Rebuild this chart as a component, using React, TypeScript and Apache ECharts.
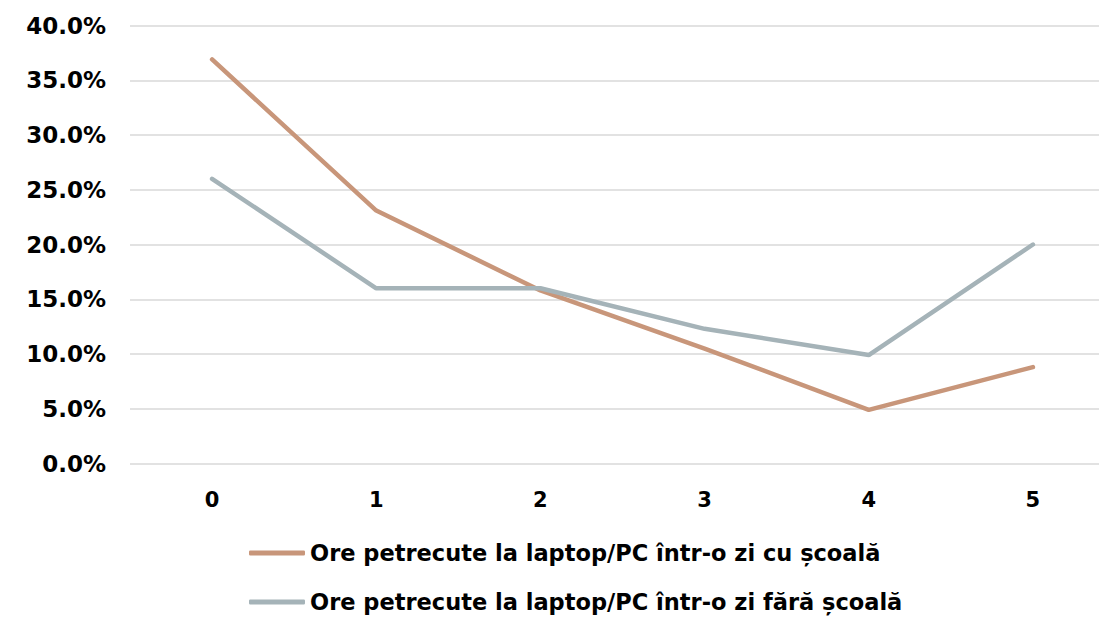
import React, { useEffect, useRef } from "react";
import * as echarts from "echarts";

const categories = ["0", "1", "2", "3", "4", "5"];
const seriesNames = [
  "Ore petrecute la laptop/PC într-o zi cu școală",
  "Ore petrecute la laptop/PC într-o zi fără școală",
];
const withSchool = [36.9, 23.1, 15.8, 10.5, 4.9, 8.8];
const withoutSchool = [26.0, 16.0, 16.0, 12.3, 9.9, 20.0];
const colors = ["#C8967A", "#A5B3B8"];

export default function App() {
  const ref = useRef<HTMLDivElement>(null);
  useEffect(() => {
    document.body.style.margin = "0";
    document.body.style.overflow = "hidden";
    const chart = echarts.init(ref.current!, undefined, { renderer: "svg" });
    const font = "'DejaVu Sans', sans-serif";
    const H = 660;
    chart.setOption({
      animation: false,
      color: colors,
      grid: { left: 130, right: 0, top: 25.5, bottom: H - 463.5 },
      xAxis: {
        type: "category",
        data: categories,
        boundaryGap: true,
        axisLine: { show: false },
        axisTick: { show: false },
        axisLabel: {
          color: "#000",
          fontSize: 21,
          fontWeight: "bold",
          fontFamily: font,
          margin: 26,
        },
      },
      yAxis: {
        type: "value",
        min: 0,
        max: 40,
        interval: 5,
        axisLine: { show: false },
        axisTick: { show: false },
        splitLine: { lineStyle: { color: "#D9D9D9", width: 1.5 } },
        axisLabel: {
          color: "#000",
          fontSize: 23,
          fontWeight: "bold",
          fontFamily: font,
          margin: 24,
          formatter: (v: number) => v.toFixed(1) + "%",
        },
      },
      legend: {
        orient: "vertical",
        left: 249,
        top: 541,
        padding: 0,
        itemGap: 25,
        itemWidth: 56,
        itemHeight: 5,
        icon: "roundRect",
        textStyle: {
          color: "#000",
          fontSize: 22.5,
          lineHeight: 24,
          fontWeight: "bold",
          fontFamily: font,
        },
        data: seriesNames,
      },
      series: [
        {
          name: seriesNames[0],
          type: "line",
          data: withSchool,
          symbol: "none",
          lineStyle: { width: 4.5, color: colors[0], cap: "round" },
        },
        {
          name: seriesNames[1],
          type: "line",
          data: withoutSchool,
          symbol: "none",
          lineStyle: { width: 4.5, color: colors[1], cap: "round" },
        },
      ],
    });
    return () => chart.dispose();
  }, []);
  return <div ref={ref} style={{ width: 1115, height: 660 }} />;
}
